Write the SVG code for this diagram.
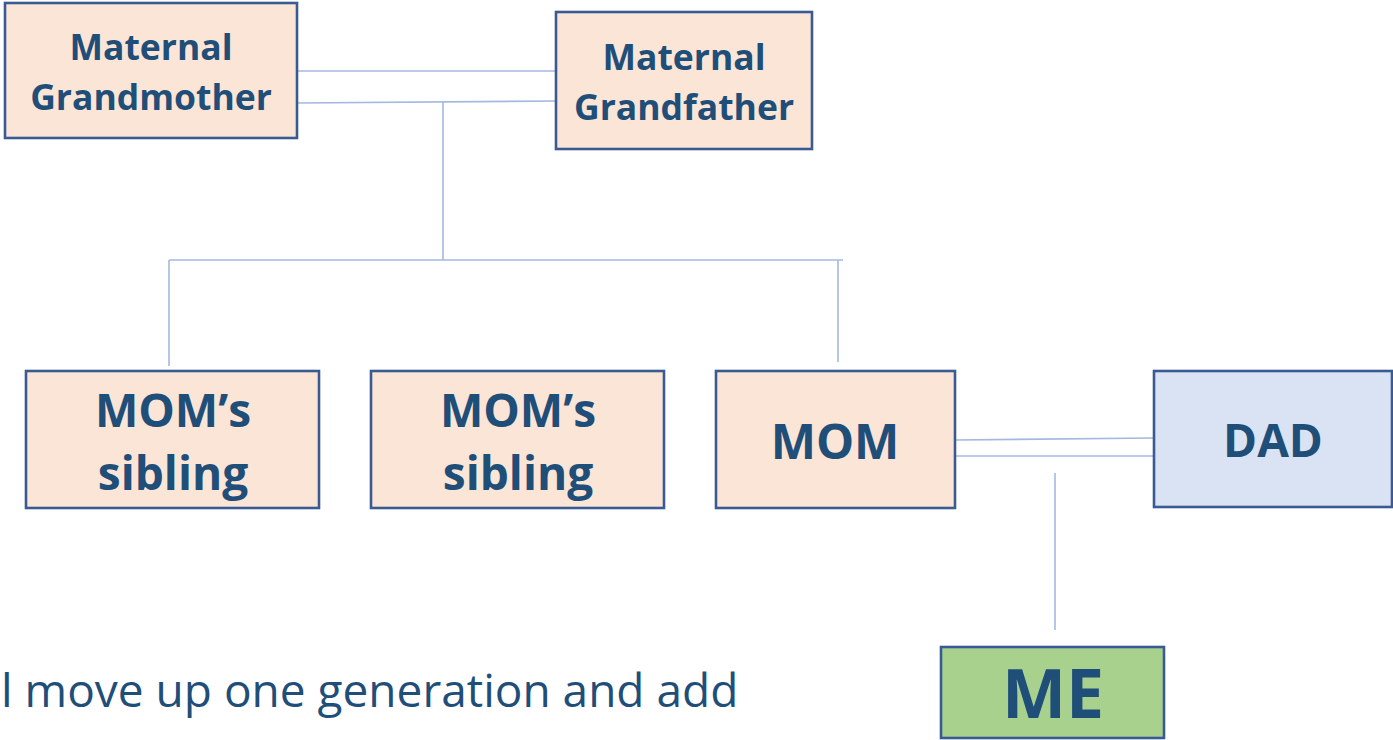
<svg xmlns="http://www.w3.org/2000/svg" width="1393" height="740" viewBox="0 0 1393 740">
<style>
.box{stroke:#3A5A93;stroke-width:2.6}
.pink{fill:#FBE5D6}
.blue{fill:#DAE3F3}
.green{fill:#A9D18E}
.t{font-family:"Open Sans",Lato,"Liberation Sans",sans-serif;font-weight:bold;fill:#1F4E79;text-anchor:middle;font-variant-ligatures:none}
.s{font-size:35.5px}
.m{font-size:46px}
.l{font-size:68px}
.con line{stroke:#A4B8E0;stroke-width:1.6}
.b{font-family:"Open Sans",Lato,"Liberation Sans",sans-serif;font-size:46px;fill:#1F4E79;font-variant-ligatures:none}
</style>
<rect width="1393" height="740" fill="#fff"/>
<g class="con">
<line x1="297" y1="71" x2="556" y2="71"/>
<line x1="297" y1="103" x2="556" y2="101"/>
<line x1="443" y1="102" x2="443" y2="260"/>
<line x1="169" y1="260" x2="843" y2="260"/>
<line x1="169" y1="260" x2="169" y2="366"/>
<line x1="838" y1="260" x2="838" y2="362"/>
<line x1="955" y1="440" x2="1154" y2="438"/>
<line x1="955" y1="456" x2="1154" y2="456"/>
<line x1="1055" y1="473" x2="1055" y2="630"/>
</g>
<g id="maternal-grandmother">
<rect class="box pink" x="5" y="3" width="292" height="135"/>
<text class="t s" x="151" y="60">Maternal</text>
<text class="t s" x="151" y="110">Grandmother</text>
</g>
<g id="maternal-grandfather">
<rect class="box pink" x="556" y="12" width="256" height="137"/>
<text class="t s" x="684" y="70">Maternal</text>
<text class="t s" x="684" y="120">Grandfather</text>
</g>
<g id="moms-sibling-1">
<rect class="box pink" x="26" y="371" width="293" height="137"/>
<text class="t m" x="173" y="427">MOM’s</text>
<text class="t m" x="173" y="490">sibling</text>
</g>
<g id="moms-sibling-2">
<rect class="box pink" x="371" y="371" width="293" height="137"/>
<text class="t m" x="518" y="427">MOM’s</text>
<text class="t m" x="518" y="490">sibling</text>
</g>
<g id="mom">
<rect class="box pink" x="716" y="371" width="239" height="137"/>
<text class="t m" x="835" y="459" style="font-size:48px">MOM</text>
</g>
<g id="dad">
<rect class="box blue" x="1154" y="371" width="238" height="136"/>
<text class="t m" x="1273" y="457">DAD</text>
</g>
<g id="me">
<rect class="box green" x="941" y="647" width="223" height="91"/>
<text class="t l" x="1053" y="718">ME</text>
</g>
<text class="b" x="1" y="707">l move up one generation and add</text>
</svg>
